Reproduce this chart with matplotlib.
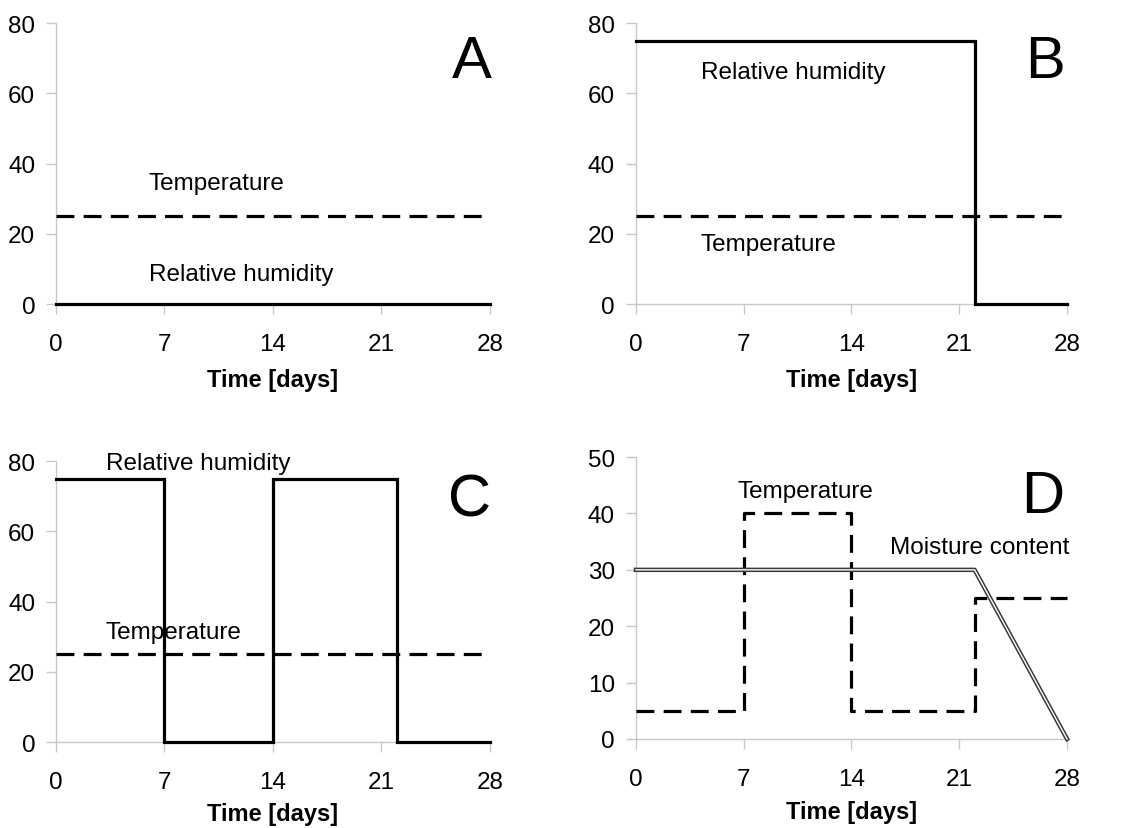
import matplotlib
matplotlib.use('Agg')
import matplotlib.pyplot as plt

plt.rcParams['font.family'] = ['Liberation Sans', 'DejaVu Sans']

# dados
dias = [0, 7, 14, 21, 28]

# A
a_t = [0, 28]
a_temp = [25, 25]
a_rh = [0, 0]

# B
b_t_rh = [0, 22, 22, 28]
b_rh = [75, 75, 0, 0]
b_t_temp = [0, 28]
b_temp = [25, 25]

# C
c_t_rh = [0, 7, 7, 14, 14, 22, 22, 28]
c_rh = [75, 75, 0, 0, 75, 75, 0, 0]
c_t_temp = [0, 28]
c_temp = [25, 25]

# D
d_t_temp = [0, 7, 7, 14, 14, 22, 22, 28]
d_temp = [5, 5, 40, 40, 5, 5, 25, 25]
d_t_mc = [0, 22, 28]
d_mc = [30, 30, 0]

cinza = '#c8c8c8'
tam_tick = 17.5
tam_txt = 17.5
tam_letra = 43


def estilo(ax, ymax, yticks, pad_label=9):
    ax.set_xlim(0, 28)
    ax.set_ylim(0, ymax)
    ax.set_xticks(dias)
    ax.set_yticks(yticks)
    for s in ['top', 'right']:
        ax.spines[s].set_visible(False)
    for s in ['left', 'bottom']:
        ax.spines[s].set_color(cinza)
        ax.spines[s].set_linewidth(1.0)
    ax.tick_params(axis='x', direction='out', length=7, width=1, color=cinza,
                   labelsize=tam_tick, pad=14)
    ax.tick_params(axis='y', direction='out', length=7, width=1, color=cinza,
                   labelsize=tam_tick, pad=8)
    ax.set_xlabel('Time [days]', fontsize=17, fontweight='bold', labelpad=pad_label)


def tracejada(ax, x, y):
    ax.plot(x, y, color='black', lw=2.3, linestyle=(0, (5.6, 2.9)), clip_on=False,
            dash_capstyle='butt', zorder=3)


def continua(ax, x, y):
    ax.plot(x, y, color='black', lw=2.3, clip_on=False, solid_joinstyle='miter',
            zorder=3)


fig = plt.figure(figsize=(11.22, 8.29), dpi=100)

axA = fig.add_axes([0.0499, 0.632, 0.3868, 0.339])
axB = fig.add_axes([0.5668, 0.632, 0.3842, 0.339])
axC = fig.add_axes([0.0499, 0.1037, 0.3868, 0.339])
axD = fig.add_axes([0.5668, 0.1074, 0.3842, 0.340])

# A
estilo(axA, 80, [0, 20, 40, 60, 80])
tracejada(axA, a_t, a_temp)
continua(axA, a_t, a_rh)
axA.text(6.0, 34.5, 'Temperature', fontsize=tam_txt, va='center')
axA.text(6.0, 8.5, 'Relative humidity', fontsize=tam_txt, va='center')
axA.text(26.8, 69, 'A', fontsize=tam_letra, ha='center', va='center')

# B
estilo(axB, 80, [0, 20, 40, 60, 80])
tracejada(axB, b_t_temp, b_temp)
continua(axB, b_t_rh, b_rh)
axB.text(4.2, 66, 'Relative humidity', fontsize=tam_txt, va='center')
axB.text(4.2, 17, 'Temperature', fontsize=tam_txt, va='center')
axB.text(26.6, 69, 'B', fontsize=tam_letra, ha='center', va='center')

# C
estilo(axC, 80, [0, 20, 40, 60, 80], pad_label=6)
tracejada(axC, c_t_temp, c_temp)
continua(axC, c_t_rh, c_rh)
axC.text(3.2, 79.5, 'Relative humidity', fontsize=tam_txt, va='center')
axC.text(3.2, 31.3, 'Temperature', fontsize=tam_txt, va='center')
axC.text(26.7, 69, 'C', fontsize=tam_letra, ha='center', va='center')

# D
estilo(axD, 50, [0, 10, 20, 30, 40, 50], pad_label=7)
tracejada(axD, d_t_temp, d_temp)
axD.plot(d_t_mc, d_mc, color='#3a3a3a', lw=3.2, clip_on=False, zorder=3)
axD.plot(d_t_mc, d_mc, color='white', lw=1.0, clip_on=False, zorder=3)
axD.text(6.6, 44, 'Temperature', fontsize=tam_txt, va='center')
axD.text(16.5, 34, 'Moisture content', fontsize=tam_txt, va='center')
axD.text(26.4, 43, 'D', fontsize=tam_letra, ha='center', va='center')

fig.savefig('out.png', dpi=100)
